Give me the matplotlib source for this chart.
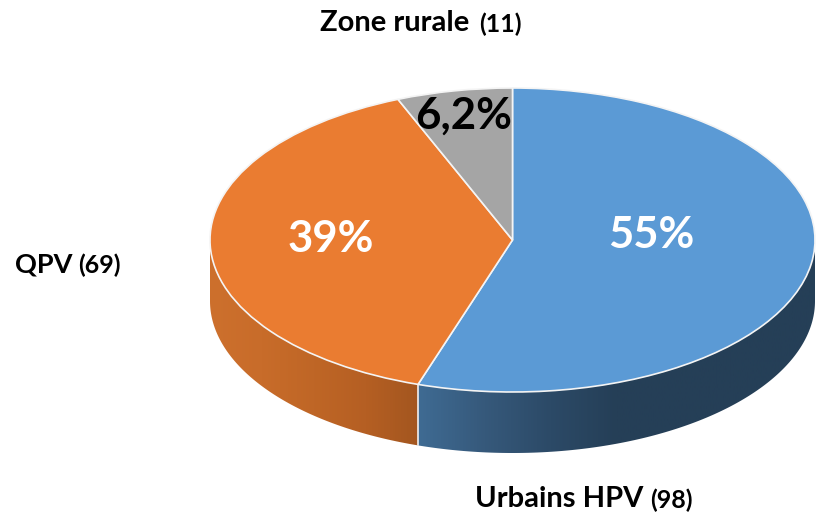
import numpy as np
import matplotlib
matplotlib.use('Agg')
import matplotlib.pyplot as plt
from matplotlib.colors import LinearSegmentedColormap
from matplotlib.patches import Polygon

labels = ['Urbains HPV', 'QPV', 'Zone rurale']
counts = [98, 69, 11]
pct_labels = ['55%', '39%', '6,2%']
top_colors = ['#5b9ad5', '#ea7c31', '#a5a5a5']

W, H = 821, 519
cx, cy = 512.5, 240      # pie centre, px from top left
rx, ry = 302.5, 152
depth = 61
squash = ry / rx

plt.rcParams['font.family'] = ['Lato', 'DejaVu Sans']

fig = plt.figure(figsize=(W / 100, H / 100), dpi=100)
ax = fig.add_axes([0, 0, 1, 1])


def yd(py):
    # pixel row to data y (data is un-squashed so the pie is a circle in data)
    return (H - py) / squash


wedges, _ = ax.pie(counts, colors=top_colors, startangle=90, counterclock=False,
                   center=(cx, yd(cy)), radius=rx, frame=True,
                   wedgeprops={'edgecolor': '#f4f4f4', 'linewidth': 1.2, 'zorder': 5})
ax.set_aspect('auto')
ax.axis('off')


def wall(a0, a1):
    # side wall under the rim between two angles (degrees)
    t = np.radians(np.linspace(a0, a1, 200))
    x = cx + rx * np.cos(t)
    y = yd(cy) + rx * np.sin(t)
    drop = depth / squash
    return np.r_[np.c_[x, y], np.c_[x[::-1], y[::-1] - drop]]


angles = 90 - np.cumsum([0] + counts) / sum(counts) * 360
split = angles[1]  # blue / orange edge, about -108 deg

ramps = [
    ((split, 0), ['#3f6b93', '#36597b', '#2c4a67', '#253f57', '#253f57', '#253f57', '#253f57']),
    ((-180, split), ['#cd702d', '#c86c2a', '#bf6626', '#b55f23', '#a3561f']),
]
for ang, cols in ramps:
    poly = Polygon(wall(*ang), closed=True, facecolor='none', edgecolor='none',
                   transform=ax.transData)
    ax.add_patch(poly)
    xs = poly.get_xy()[:, 0]
    cmap = LinearSegmentedColormap.from_list('ramp', cols)
    im = ax.imshow(np.linspace(0, 1, 256).reshape(1, -1), cmap=cmap, aspect='auto',
                   extent=[xs.min(), xs.max(), 0, H / squash], zorder=2)
    im.set_clip_path(poly)

ax.set_xlim(0, W)
ax.set_ylim(0, H / squash)

# white seam on the front wall where the two segments meet
sx = cx + rx * np.cos(np.radians(split))
sy = yd(cy) + rx * np.sin(np.radians(split))
ax.plot([sx, sx], [sy, sy - depth / squash], color='#f0f0f0', lw=1.2, zorder=4)


def px_text(x, y, s, **kw):
    ax.text(x, yd(y), s, va='center', fontweight='bold', **kw)


# percentages
px_text(651, 235, pct_labels[0], color='white', fontsize=31.5, ha='center', zorder=6)
px_text(331, 239, pct_labels[1], color='white', fontsize=31.5, ha='center', zorder=6)
px_text(464, 116, pct_labels[2], color='black', fontsize=31.5, ha='center', zorder=6)

# category labels, name and count in two sizes
px_text(320, 23, labels[2], color='black', fontsize=21, ha='left')
px_text(479, 24, '(%d)' % counts[2], color='black', fontsize=18, ha='left')
px_text(15, 264, labels[1], color='black', fontsize=19.5, ha='left')
px_text(78, 265, '(%d)' % counts[1], color='black', fontsize=18, ha='left')
px_text(475, 499, labels[0], color='black', fontsize=21, ha='left')
px_text(650, 500, '(%d)' % counts[0], color='black', fontsize=18, ha='left')

fig.savefig('out.png', dpi=100)
